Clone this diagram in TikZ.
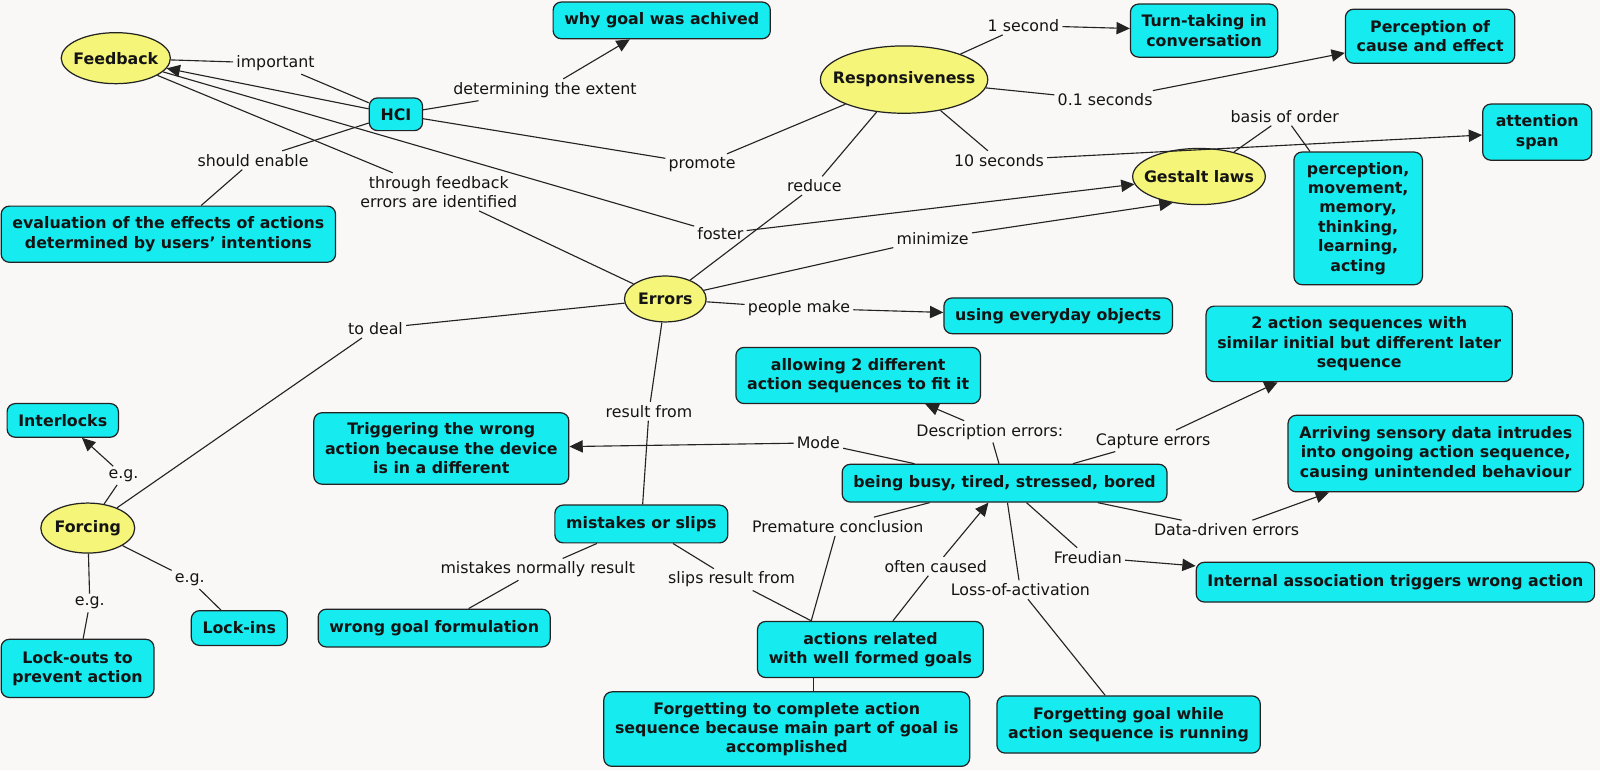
\documentclass[tikz,border=0pt]{standalone}
\usepackage{fontspec}
\setmainfont{DejaVu Sans}
\usetikzlibrary{arrows.meta,shapes.geometric}
\definecolor{bg}{RGB}{249,248,247}
\definecolor{cy}{RGB}{22,236,240}
\definecolor{yl}{RGB}{245,245,122}
\definecolor{bd}{RGB}{35,35,35}
\definecolor{tx}{RGB}{20,20,20}
\begin{document}
\begin{tikzpicture}[x=1pt,y=-1pt,
  box/.style={draw=bd, line width=1.2pt, fill=cy, rounded corners=8pt, align=center,
    font=\fontsize{15.5}{19}\selectfont\bfseries, text=tx, inner xsep=11pt, inner ysep=4pt},
  oval/.style={draw=bd, line width=1.2pt, fill=yl, ellipse, inner sep=0pt},
  ovaltext/.style={font=\fontsize{15.5}{19}\selectfont\bfseries, text=tx, inner sep=0pt},
  lab/.style={font=\fontsize{15.5}{19}\selectfont, inner sep=3pt, align=center, text=tx},
  con/.style={line width=1.1pt, draw=bd},
  arr/.style={con, -{Triangle[length=13pt,width=12pt]}},
]
\fill[bg] (0,0) rectangle (1568,754.6);
\useasboundingbox (0,0) rectangle (1568,754.6);

% concepts
\node[oval, minimum width=107pt, minimum height=50pt, label={[ovaltext]center:Feedback}] (fb) at (113.5,57) {};
\node[box, minimum height=36pt] (why) at (648.5,20) {why goal was achived};
\node[box, minimum height=32pt] (hci) at (388,112) {HCI};
\node[oval, minimum width=164pt, minimum height=66pt, label={[ovaltext]center:Responsiveness}] (resp) at (886,78) {};
\node[box, minimum height=52pt] (turn) at (1180,30) {Turn-taking in\\conversation};
\node[box, minimum height=53pt] (perc) at (1401.5,35.5) {Perception of\\cause and effect};
\node[box, minimum height=55pt, minimum width=107pt] (attn) at (1506.5,129.5) {attention\\span};
\node[oval, minimum width=130pt, minimum height=55pt, label={[ovaltext]center:Gestalt laws}] (gestalt) at (1175,173) {};
\node[box, minimum height=130pt, minimum width=126pt] (percbox) at (1331,214) {perception,\\movement,\\memory,\\thinking,\\learning,\\acting};
\node[box, minimum height=55pt] (eval) at (165,229.5) {evaluation of the effects of actions\\determined by users’ intentions};
\node[oval, minimum width=80pt, minimum height=45pt, label={[ovaltext]center:Errors}] (err) at (652,293) {};
\node[box, minimum height=35pt] (everyday) at (1037,309.5) {using everyday objects};
\node[box, minimum height=74pt] (twoseq) at (1332,337) {2 action sequences with\\similar initial but different later\\sequence};
\node[box, minimum height=55pt] (allowing) at (841,368) {allowing 2 different\\action sequences to fit it};
\node[box, minimum height=33pt] (interlocks) at (61.5,412) {Interlocks};
\node[box, minimum height=70pt] (trigger) at (432.5,439.5) {Triggering the wrong\\action because the device\\is in a different};
\node[box, minimum height=37pt] (busy) at (984.5,473.5) {being busy, tired, stressed, bored};
\node[box, minimum height=75pt] (arriving) at (1407,444.5) {Arriving sensory data intrudes\\into ongoing action sequence,\\causing unintended behaviour};
\node[oval, minimum width=92pt, minimum height=49pt, label={[ovaltext]center:Forcing}] (forcing) at (86,517.5) {};
\node[box, minimum height=37pt] (mistakes) at (628.5,513.5) {mistakes or slips};
\node[box, minimum height=39pt] (internal) at (1367.5,570.5) {Internal association triggers wrong action};
\node[box, minimum height=34pt] (lockins) at (234.5,615.5) {Lock-ins};
\node[box, minimum height=37pt] (wronggoal) at (425.5,615.5) {wrong goal formulation};
\node[box, minimum height=55pt] (actions) at (853,636.5) {actions related\\with well formed goals};
\node[box, minimum height=57pt] (lockouts) at (76,655) {Lock-outs to\\prevent action};
\node[box, minimum height=73pt] (forgetcomplete) at (771,714.5) {Forgetting to complete action\\sequence because main part of goal is\\accomplished};
\node[box, minimum height=56pt] (forgetgoal) at (1106,710) {Forgetting goal while\\action sequence is running};

% linking phrases
\node[lab] (important) at (270,62) {important};
\node[lab] (determ) at (534,88) {determining the extent};
\node[lab] (enable) at (248,157) {should enable};
\node[lab] (through) at (430,188) {through feedback\\errors are identified};
\node[lab] (promote) at (688,161) {promote};
\node[lab] (reduce) at (798,182) {reduce};
\node[lab] (foster) at (706,229) {foster};
\node[lab] (minimize) at (914,234) {minimize};
\node[lab] (onesec) at (1003,25) {1 second};
\node[lab] (ptone) at (1083,98) {0.1 seconds};
\node[lab] (tensec) at (979,157) {10 seconds};
\node[lab] (basis) at (1259,114) {basis of order};
\node[lab] (todeal) at (368,322) {to deal};
\node[lab] (people) at (783,302) {people make};
\node[lab] (resultfrom) at (636,403) {result from};
\node[lab] (mode) at (802,434) {Mode};
\node[lab] (descr) at (970,423) {Description errors:};
\node[lab] (capture) at (1130,432) {Capture errors};
\node[lab] (eg1) at (121,466) {e.g.};
\node[lab] (eg2) at (186,568) {e.g.};
\node[lab] (eg3) at (88,591) {e.g.};
\node[lab] (premature) at (821,516) {Premature conclusion};
\node[lab] (datadriven) at (1202,519) {Data-driven errors};
\node[lab] (normally) at (527,558) {mistakes normally result};
\node[lab] (slips) at (717,568) {slips result from};
\node[lab] (often) at (917,555) {often caused};
\node[lab] (freudian) at (1066,546) {Freudian};
\node[lab] (loss) at (1000,578) {Loss-of-activation};

% connectors
\draw[con] (fb) -- (important);
\draw[con] (important) -- (hci);
\draw[arr] (hci) -- (fb);
\draw[con] (hci) -- (determ);
\draw[arr] (determ) -- (why);
\draw[con] (hci) -- (promote);
\draw[con] (promote) -- (resp);
\draw[con] (hci) -- (enable);
\draw[con] (enable) -- (eval);
\draw[con] (fb) -- (through);
\draw[con] (through) -- (err);
\draw[con] (fb) -- (foster);
\draw[arr] (foster) -- (gestalt);
\draw[con] (err) -- (reduce);
\draw[con] (reduce) -- (resp);
\draw[con] (err) -- (minimize);
\draw[arr] (minimize) -- (gestalt.225);
\draw[con] (resp) -- (onesec);
\draw[arr] (onesec) -- (turn);
\draw[con] (resp) -- (ptone);
\draw[arr] (ptone) -- (perc);
\draw[con] (resp) -- (tensec);
\draw[arr] (tensec) -- (attn);
\draw[con] (gestalt) -- (basis);
\draw[con] (basis) -- (percbox);
\draw[con] (err) -- (todeal);
\draw[con] (todeal) -- (forcing);
\draw[con] (err) -- (people);
\draw[arr] (people) -- (everyday);
\draw[con] (err) -- (resultfrom);
\draw[con] (resultfrom) -- (mistakes);
\draw[con] (forcing) -- (eg1);
\draw[arr] (eg1) -- (interlocks);
\draw[con] (forcing) -- (eg2);
\draw[con] (eg2) -- (lockins);
\draw[con] (forcing) -- (eg3);
\draw[con] (eg3) -- (lockouts);
\draw[con] (mistakes) -- (normally);
\draw[con] (normally) -- (wronggoal);
\draw[con] (mistakes) -- (slips);
\draw[con] (slips) -- ([xshift=-58pt]actions.north);
\draw[con] (premature) -- ([xshift=-58pt]actions.north);
\draw[con] (premature) -- (busy);
\draw[con] (actions) -- (often);
\draw[arr] (often) -- (busy);
\draw[con] ([xshift=-56pt]actions.south) -- ([xshift=26pt]forgetcomplete.north);
\draw[con] (busy) -- (loss);
\draw[con] (loss) -- (forgetgoal);
\draw[con] (busy) -- (freudian);
\draw[arr] (freudian) -- (internal);
\draw[con] (busy) -- (datadriven);
\draw[arr] (datadriven) -- (arriving);
\draw[con] (busy) -- (capture);
\draw[arr] (capture) -- (twoseq);
\draw[con] (busy) -- (descr);
\draw[arr] (descr) -- (allowing);
\draw[con] (busy) -- (mode);
\draw[arr] (mode) -- (trigger);
\end{tikzpicture}
\end{document}
